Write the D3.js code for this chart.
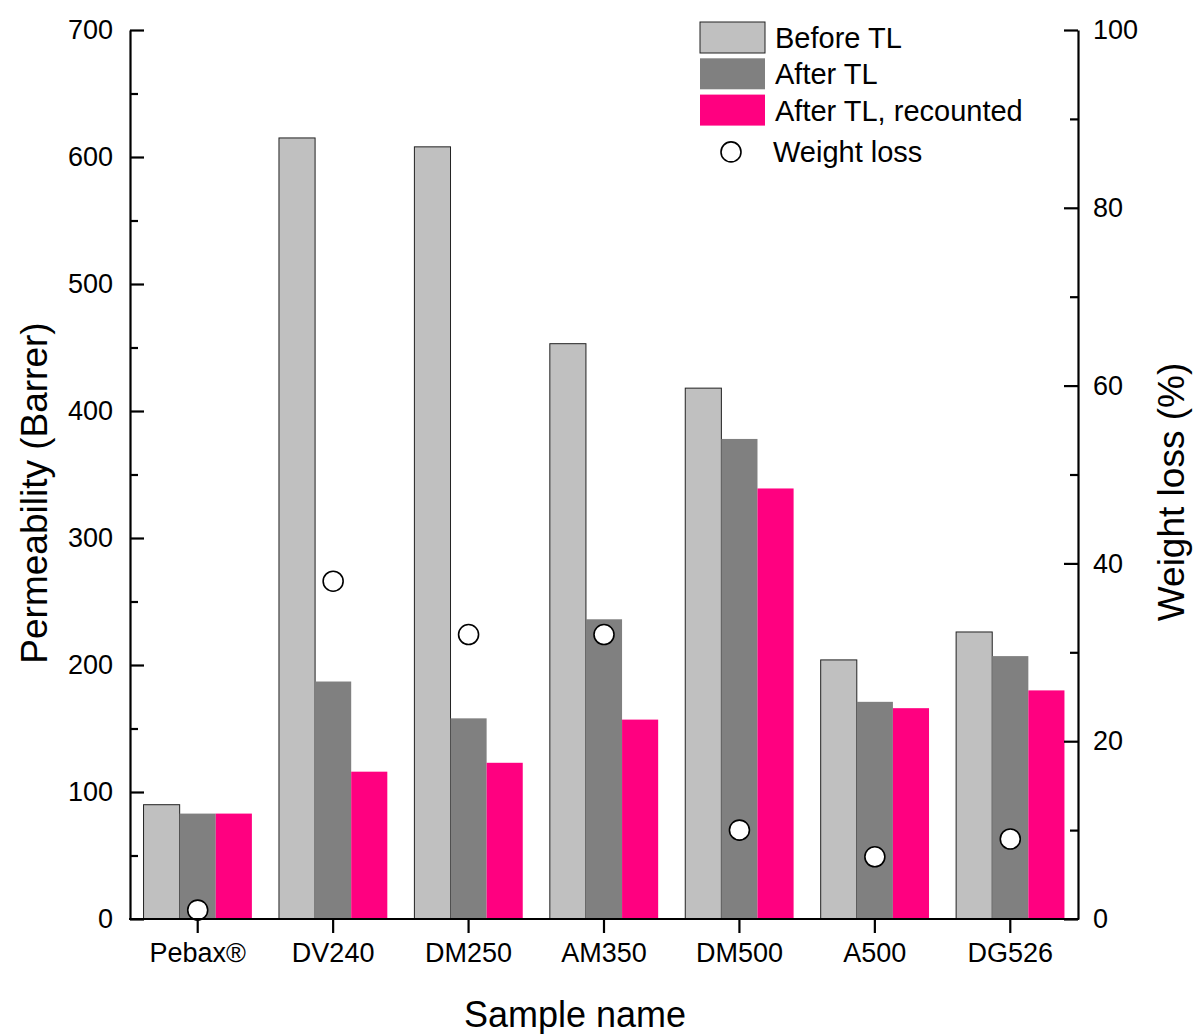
<!DOCTYPE html>
<html>
<head>
<meta charset="utf-8">
<script src="https://cdn.jsdelivr.net/npm/d3@7"></script>
<style>
  html, body { margin: 0; padding: 0; background: #fff; }
  svg { display: block; font-family: "Liberation Sans", Arial, sans-serif; }
</style>
</head>
<body>
<svg id="chart" width="1194" height="1034"></svg>
<script>
// Samples and measured values
const samples = ["Pebax®", "DV240", "DM250", "AM350", "DM500", "A500", "DG526"];
const beforeTL = [90, 615, 608, 453, 418, 204, 226];
const afterTL = [83, 187, 158, 236, 378, 171, 207];
const afterTLRecounted = [83, 116, 123, 157, 339, 166, 180];
const weightLoss = [1, 38, 32, 32, 10, 7, 9];

const seriesNames = ["Before TL", "After TL", "After TL, recounted"];
const seriesColors = ["#c0c0c0", "#808080", "#ff0080"];
const leftTicks = [0, 100, 200, 300, 400, 500, 600, 700];
const rightTicks = [0, 20, 40, 60, 80, 100];

const svg = d3.select("#chart");
const m = { left: 130, right: 1078, top: 30, bottom: 919 };

const x = d3.scaleBand().domain(samples).range([m.left, m.right]).padding(0);
const groupWidth = x.bandwidth() * 0.8;
const xs = d3.scaleBand().domain(d3.range(3)).range([0, groupWidth]).padding(0);
const yL = d3.scaleLinear().domain([0, 700]).range([m.bottom, m.top]);
const yR = d3.scaleLinear().domain([0, 100]).range([m.bottom, m.top]);

const series = [beforeTL, afterTL, afterTLRecounted];

// Bars
const groups = svg.append("g").selectAll("g")
  .data(samples).join("g")
  .attr("transform", d => `translate(${x(d) + (x.bandwidth() - groupWidth) / 2},0)`);

groups.selectAll("rect")
  .data((d, i) => series.map((s, k) => ({ k, v: s[i] })))
  .join("rect")
  .attr("x", d => xs(d.k))
  .attr("width", xs.bandwidth())
  .attr("y", d => yL(d.v))
  .attr("height", d => yL(0) - yL(d.v))
  .attr("fill", d => seriesColors[d.k])
  .attr("stroke", d => d.k === 0 ? "#222" : "none")
  .attr("stroke-width", 1);

// Weight loss markers on the right axis
svg.append("g").selectAll("circle")
  .data(samples).join("circle")
  .attr("cx", d => x(d) + x.bandwidth() / 2)
  .attr("cy", (d, i) => yR(weightLoss[i]))
  .attr("r", 10)
  .attr("fill", "#fff")
  .attr("stroke", "#000")
  .attr("stroke-width", 1.6);

const tickFont = 27;

// Left axis (ticks inward)
svg.append("g").attr("transform", `translate(${m.left},0)`)
  .call(d3.axisLeft(yL).tickValues(leftTicks).tickSize(-14).tickPadding(17).tickSizeOuter(0));
svg.append("g").attr("transform", `translate(${m.left},0)`)
  .call(d3.axisLeft(yL).tickValues(d3.range(50, 700, 100)).tickSize(-8).tickFormat("").tickSizeOuter(0))
  .select(".domain").remove();

// Right axis (ticks inward)
svg.append("g").attr("transform", `translate(${m.right},0)`)
  .call(d3.axisRight(yR).tickValues(rightTicks).tickSize(-14).tickPadding(15).tickSizeOuter(0));
svg.append("g").attr("transform", `translate(${m.right},0)`)
  .call(d3.axisRight(yR).tickValues(d3.range(10, 100, 20)).tickSize(-8).tickFormat("").tickSizeOuter(0))
  .select(".domain").remove();

// Bottom axis (ticks outward)
const bottomAxis = svg.append("g").attr("transform", `translate(0,${m.bottom})`)
  .call(d3.axisBottom(x).tickSize(14).tickPadding(10).tickSizeOuter(0));

svg.selectAll(".domain, .tick line").attr("stroke", "#000").attr("stroke-width", 2.2);
svg.selectAll(".tick text")
  .attr("font-family", "'Liberation Sans', Arial, sans-serif")
  .attr("font-size", tickFont).attr("fill", "#000");
bottomAxis.selectAll(".domain").attr("d", `M${m.left - 1},0H${m.right + 1}`);

// Axis titles
const titleFont = 37;
svg.append("text")
  .attr("transform", "translate(47,493) rotate(-90)")
  .attr("text-anchor", "middle").attr("font-size", titleFont)
  .text("Permeability (Barrer)");
svg.append("text")
  .attr("transform", "translate(1184,492) rotate(-90)")
  .attr("text-anchor", "middle").attr("font-size", titleFont)
  .text("Weight loss (%)");
svg.append("text")
  .attr("x", 575).attr("y", 1027)
  .attr("text-anchor", "middle").attr("font-size", 36)
  .text("Sample name");

// Legend
const legend = svg.append("g").attr("transform", "translate(700,22)");
const legendFont = 29;
seriesNames.forEach((name, k) => {
  const row = legend.append("g").attr("transform", `translate(0,${k * 36.3})`);
  row.append("rect")
    .attr("width", 65).attr("height", 31)
    .attr("fill", seriesColors[k])
    .attr("stroke", k === 0 ? "#222" : "none");
  row.append("text")
    .attr("x", 75).attr("y", 26)
    .attr("font-size", legendFont).text(name);
});
const wl = legend.append("g").attr("transform", `translate(0,${3 * 36.3 + 12})`);
wl.append("circle").attr("cx", 31).attr("cy", 9).attr("r", 10)
  .attr("fill", "#fff").attr("stroke", "#000").attr("stroke-width", 1.6);
wl.append("text").attr("x", 73).attr("y", 19)
  .attr("font-size", legendFont).text("Weight loss");
</script>
</body>
</html>
